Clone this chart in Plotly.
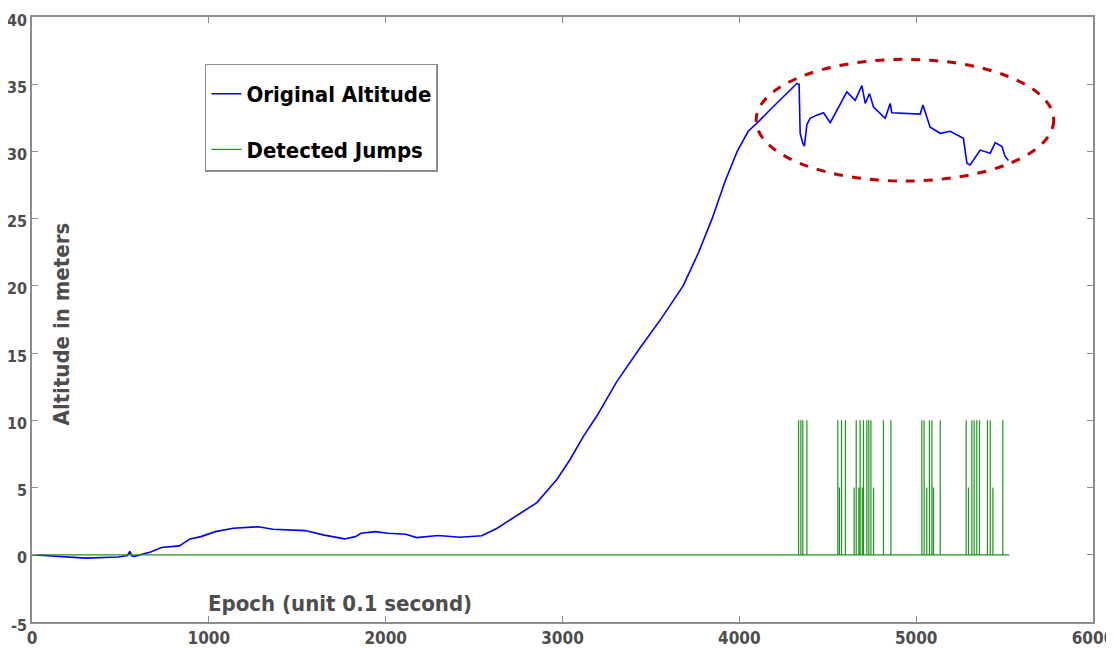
import plotly.graph_objects as go

# Original altitude (epoch, metres)
alt_epoch = [0, 122, 305, 488, 540, 553, 565, 579, 671, 732, 833, 894, 955, 1037, 1138,
             1280, 1362, 1545, 1646, 1768, 1829, 1860, 1941, 2012, 2114, 2175, 2297, 2421,
             2543, 2628, 2741, 2855, 2968, 3043, 3118, 3193, 3307, 3439, 3560, 3682, 3770,
             3846, 3920, 3988, 4050, 4107, 4174, 4249, 4325, 4338, 4344, 4359, 4368, 4382,
             4400, 4438, 4476, 4514, 4551, 4570, 4608, 4655, 4693, 4712, 4736, 4759, 4825,
             4853, 4862, 5023, 5038, 5079, 5136, 5192, 5267, 5287, 5305, 5362, 5419, 5447,
             5485, 5503, 5522]
alt_value = [0.0, -0.12, -0.25, -0.17, -0.05, 0.25, -0.1, -0.12, 0.2, 0.54, 0.66, 1.18, 1.35,
             1.72, 1.97, 2.09, 1.9, 1.8, 1.48, 1.18, 1.35, 1.6, 1.72, 1.6, 1.53, 1.28, 1.43,
             1.3, 1.42, 1.96, 2.9, 3.88, 5.6, 7.09, 8.81, 10.3, 12.88, 15.4, 17.6, 20.0, 22.5,
             25.0, 27.8, 30.0, 31.5, 32.2, 33.1, 34.07, 35.05, 35.0, 31.35, 30.6, 30.4, 32.0,
             32.46, 32.7, 32.88, 32.14, 33.07, 33.57, 34.43, 33.8, 34.9, 33.57, 34.3, 33.3,
             32.46, 33.57, 32.88, 32.78, 33.45, 31.8, 31.35, 31.5, 30.98, 29.13, 29.0, 30.1,
             29.87, 30.66, 30.37, 29.63, 29.33]

# Detected jumps (epoch, flag height)
jump_epoch = [4335, 4348, 4359, 4382, 4557, 4566, 4578, 4600, 4649, 4661, 4676, 4683, 4695,
              4702, 4721, 4732, 4744, 4759, 4815, 4857, 5032, 5045, 5060, 5075, 5089, 5098,
              5136, 5283, 5296, 5315, 5328, 5343, 5358, 5403, 5419, 5434, 5490]
jump_height = [10, 10, 10, 10, 10, 5, 10, 10, 5, 10, 5, 10, 5, 10, 10, 10, 10, 5, 10, 10,
               10, 10, 5, 10, 10, 5, 10, 10, 5, 10, 10, 10, 10, 10, 10, 5, 10]
jump_start, jump_end = 0, 5526

x_ticks = [0, 1000, 2000, 3000, 4000, 5000, 6000]
y_ticks = [-5, 0, 5, 10, 15, 20, 25, 30, 35, 40]

# build the jump signal as a step line
jx, jy = [jump_start], [0]
for e, h in zip(jump_epoch, jump_height):
    jx += [e, e, e]
    jy += [0, h, 0]
jx.append(jump_end)
jy.append(0)

FONT = "DejaVu Sans Condensed, Liberation Sans Narrow, sans-serif"

fig = go.Figure()
fig.add_trace(go.Scatter(x=alt_epoch, y=alt_value, mode="lines", name="Original Altitude",
                         line=dict(color="#0000ff", width=1.6), legendgroup="a"))
fig.add_trace(go.Scatter(x=jx, y=jy, mode="lines", name="Detected Jumps",
                         line=dict(color="rgb(30,150,30)", width=1.2), legendgroup="b"))

# ellipse highlighting the noisy region
fig.add_shape(type="circle", xref="x", yref="y", x0=4095, x1=5778, y0=27.8, y1=36.85,
              line=dict(color="#c00000", width=3, dash="dash"))

fig.add_annotation(text="Altitude in meters", xref="paper", yref="paper", x=0.028, y=0.493,
                   xanchor="center", yanchor="middle",
                   textangle=-90, showarrow=False,
                   font=dict(family=FONT, size=22, color="#4d4d4d", weight="bold"))
fig.add_annotation(text="Epoch (unit 0.1 second)", xref="paper", yref="paper", x=0.29, y=0.031,
                   xanchor="center", yanchor="middle", showarrow=False,
                   font=dict(family=FONT, size=22, color="#4d4d4d", weight="bold"))

axis_common = dict(showline=True, linecolor="#8c8c8c", linewidth=1.5, mirror="ticks",
                   ticks="inside", ticklen=6, tickcolor="#8c8c8c", tickwidth=1,
                   showgrid=False, zeroline=False, automargin=False,
                   ticklabeloverflow="allow")

fig.update_xaxes(range=[0, 6000], tickvals=x_ticks, ticktext=[str(v) for v in x_ticks],
                 tickfont=dict(family=FONT, size=17, color="#4d4d4d", weight="bold"),
                 **axis_common)
fig.update_yaxes(range=[-5, 40], tickvals=y_ticks, ticktext=[str(v) for v in y_ticks],
                 tickfont=dict(family=FONT, size=16, color="#4d4d4d", weight="bold"),
                 ticklabelshift=3,
                 **axis_common)

fig.update_layout(
    width=1114, height=653,
    margin=dict(l=24, r=29, t=9, b=39),
    plot_bgcolor="white", paper_bgcolor="white",
    legend=dict(x=0.163, y=0.923, xanchor="left", yanchor="top",
                bordercolor="#8c8c8c", borderwidth=1.5, bgcolor="white",
                tracegroupgap=24, itemwidth=30,
                title=dict(text=" ", font=dict(size=6)),
                font=dict(family=FONT, size=22, color="black", weight="bold")),
)

fig.write_html("out.html")
